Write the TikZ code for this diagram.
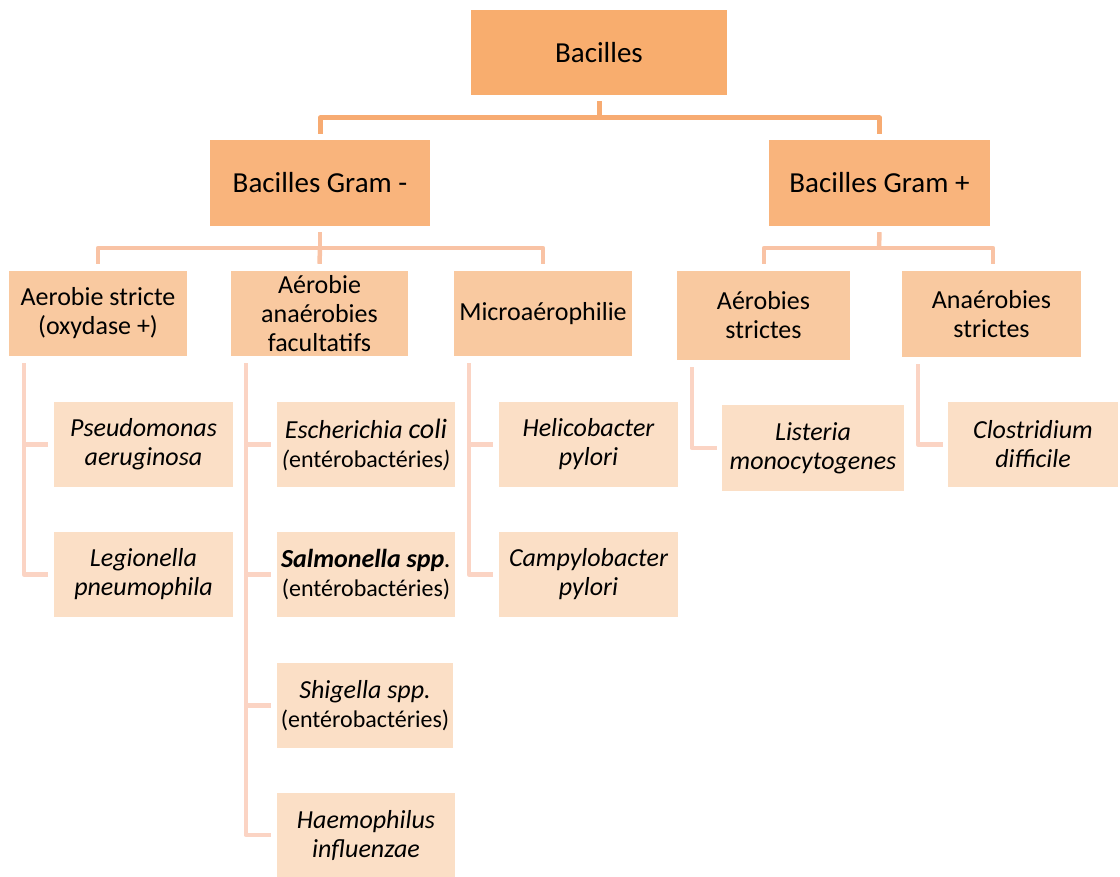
\documentclass[tikz,border=0pt]{standalone}
\usepackage{fontspec}
\setmainfont{Carlito}
\definecolor{fillA}{HTML}{F8AD6E}
\definecolor{fillB}{HTML}{F9B47C}
\definecolor{fillC}{HTML}{F9C9A0}
\definecolor{fillD}{HTML}{FBDFC6}
\definecolor{lineA}{HTML}{F7AB72}
\definecolor{lineB}{HTML}{F9C3A5}
\definecolor{lineC}{HTML}{FBD4C4}
\begin{document}
\begin{tikzpicture}[x=1pt,y=-1pt,
  box/.style={inner sep=0pt, align=center, text=black},
  sz/.style 2 args={minimum width=#1pt, minimum height=#2pt},
  lvlA/.style={box, fill=fillA, font=\fontsize{29}{35}\selectfont},
  lvlB/.style={box, fill=fillB, font=\fontsize{29}{35}\selectfont},
  lvlC/.style={box, fill=fillC, font=\fontsize{26}{29}\selectfont},
  lvlD/.style={box, fill=fillD, font=\fontsize{26}{29}\itshape},
  connA/.style={draw=lineA, line width=5pt, line join=round},
  connB/.style={draw=lineB, line width=4.5pt, line join=round},
  connC/.style={draw=lineC, line width=4.5pt, line join=round},
  sub/.style={font=\fontsize{24}{29}\upshape}]
\useasboundingbox (0,0) rectangle (1120,877);

% root and Gram groups
\node[lvlA, sz={256}{85}] (root) at (599,52.5) {Bacilles};
\node[lvlB, sz={220}{86}] (gm) at (320,183) {Bacilles Gram -};
\node[lvlB, sz={221}{86}] (gp) at (879.5,183) {Bacilles Gram +};

% respiratory types
\node[lvlC, sz={178}{85}] (aer) at (98,313.5) {Aerobie stricte\\(oxydase +)};
\node[lvlC, sz={177}{85}] (fac) at (319.5,313.5) {Aérobie\\anaérobies\\facultatifs};
\node[lvlC, sz={178}{85}] (mic) at (543,313.5) {Microaérophilie};
\node[lvlC, sz={173}{89}] (aes) at (763.5,315.5) {Aérobies\\strictes};
\node[lvlC, sz={179}{86}] (ans) at (991.5,314) {Anaérobies\\strictes};

% species
\node[lvlD, sz={179}{85}] (pse) at (143.5,444.5) {Pseudomonas\\aeruginosa};
\node[lvlD, sz={179}{85}] (leg) at (143.5,574.5) {Legionella\\pneumophila};
\node[lvlD, sz={178}{85}] (esc) at (366,444.5)
  {Escherichia {\fontsize{28}{29}\selectfont coli}\\{\fontsize{24}{29}\selectfont(\upshape entérobactéries\itshape)}};
\node[lvlD, sz={178}{85}] (sal) at (366,574.5)
  {\textbf{Salmonella spp}.\\{\fontsize{24}{29}\upshape(entérobactéries)}};
\node[lvlD, sz={176}{85}] (shi) at (365,705.5)
  {Shigella spp.\\{\fontsize{24}{29}\upshape(entérobactéries)}};
\node[lvlD, sz={178}{84}] (hae) at (366,835) {Haemophilus\\influenzae};
\node[lvlD, sz={179}{85}] (hel) at (588.5,444.5) {Helicobacter\\pylori};
\node[lvlD, sz={179}{85}] (cam) at (588.5,574.5) {Campylobacter\\pylori};
\node[lvlD, sz={182}{86}] (lis) at (813,448) {Listeria\\monocytogenes};
\node[lvlD, sz={170}{85}] (clo) at (1033,444.5) {Clostridium\\difficile};

% junction levels
\coordinate (jA) at (599,118);
\coordinate (jB) at (320,248);
\coordinate (jC) at (879,248);

% root to Gram groups
\draw[connA] ([yshift=-6pt]root.south) -- (root.south |- jA);
\draw[connA] ([yshift=6pt]gm.north) |- (jA) -| ([yshift=6pt]gp.north);

% Gram - to its three groups
\draw[connB] ([yshift=-6pt]gm.south) -- (jB);
\draw[connB] ([yshift=7pt]aer.north) |- (jB) -| ([yshift=7pt]mic.north);
\draw[connB] (jB) -- ([yshift=7pt]fac.north);

% Gram + to its two groups
\draw[connB] ([yshift=-6pt]gp.south) -- (jC);
\draw[connB] ([xshift=0.5pt,yshift=7pt]aes.north) |- (jC) -| ([xshift=1.5pt,yshift=7pt]ans.north);

% groups to species
\draw[connC] ([xshift=15pt,yshift=-7pt]aer.south west) |- ([xshift=-6pt]leg.west);
\draw[connC] ([xshift=15pt]aer.south west |- pse.west) -- ([xshift=-6pt]pse.west);

\draw[connC] ([xshift=15pt,yshift=-7pt]fac.south west) |- ([xshift=-6pt]hae.west);
\draw[connC] ([xshift=15pt]fac.south west |- esc.west) -- ([xshift=-6pt]esc.west);
\draw[connC] ([xshift=15pt]fac.south west |- sal.west) -- ([xshift=-6pt]sal.west);
\draw[connC] ([xshift=15pt]fac.south west |- shi.west) -- ([xshift=-6pt]shi.west);

\draw[connC] ([xshift=15pt,yshift=-7pt]mic.south west) |- ([xshift=-6pt]cam.west);
\draw[connC] ([xshift=15pt]mic.south west |- hel.west) -- ([xshift=-6pt]hel.west);

\draw[connC] ([xshift=15pt,yshift=-7pt]aes.south west) |- ([xshift=-5pt]lis.west);
\draw[connC] ([xshift=16pt,yshift=-7pt]ans.south west) |- ([xshift=-5pt]clo.west);
\end{tikzpicture}
\end{document}
